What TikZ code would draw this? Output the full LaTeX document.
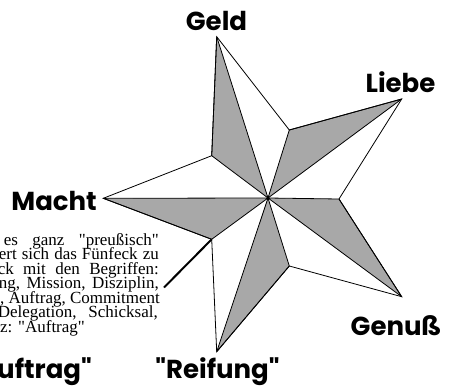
\documentclass[tikz,border=0pt]{standalone}
\usepackage{fontspec}
\setmainfont{Liberation Serif}[Ligatures=TeXOff]
\newfontfamily\labelfont{Poppins}[Ligatures=TeXOff]
\begin{document}
\begin{tikzpicture}[x=1pt,y=-1pt,
  lbl/.style={font=\labelfont\bfseries\fontsize{26}{26}\selectfont, inner sep=0pt},
  txt/.style={font=\fontsize{17}{17}\selectfont, inner sep=0pt, anchor=base east,
    text height=9pt, text depth=3pt},
  armfill/.style={fill=black!34, draw=black, line width=0.8pt, line join=round},
  outline/.style={draw=black, line width=0.8pt, line join=miter},
  callout/.style={draw=black, line width=2pt}]
\useasboundingbox (0,0) rectangle (449,388);
\clip (0,0) rectangle (449,388);
% star geometry
\coordinate (C) at (268,198);
\coordinate (M) at (103.3,198.3);
\coordinate (G) at (216.7,36.7);
\coordinate (L) at (401.7,99);
\coordinate (N) at (401.7,296.7);
\coordinate (R) at (216.7,351.7);
\coordinate (I1) at (211.7,155.7);
\coordinate (I2) at (289.3,130);
\coordinate (I3) at (339,199);
\coordinate (I4) at (289.3,266);
\coordinate (I5) at (211.7,239.3);
% gray halves
\path[armfill] (M) -- (C) -- (I5) -- cycle;
\path[armfill] (G) -- (C) -- (I1) -- cycle;
\path[armfill] (L) -- (C) -- (I2) -- cycle;
\path[armfill] (N) -- (C) -- (I3) -- cycle;
\path[armfill] (R) -- (C) -- (I4) -- cycle;
% outline
\path[outline] (M) -- (I1) -- (G) -- (I2) -- (L) -- (I3) -- (N) -- (I4) -- (R) -- (I5) -- cycle;
\fill[black] (C) circle (1.6);
% labels
\node[lbl, anchor=base] (geld) at (216.5,30) {Geld};
\node[lbl, anchor=base] (liebe) at (400.5,92) {Liebe};
\node[lbl, anchor=base east] (macht) at (97,210) {Macht};
\node[lbl, anchor=base] (genuss) at (396,335) {Genuß};
\node[lbl, anchor=base] (reifung) at (217.5,378) {"Reifung"};
\node[lbl, anchor=base east] (auftrag) at (92,378) {"Auftrag"};
% text block
\node[txt] (t1) at (159,245) {\makebox[155pt][s]{es ganz "preußisch"}};
\node[txt] (t2) at (159,259.5) {\makebox[160pt][s]{ert sich das Fünfeck zu}};
\node[txt] (t3) at (159,274) {\makebox[161pt][s]{ck mit den Begriffen:}};
\node[txt] (t4) at (159,288.5) {\makebox[160pt][s]{ng, Mission, Disziplin,}};
\node[txt] (t5) at (160,303) {g, Auftrag, Commitment};
\node[txt] (t6) at (158,317.5) {\makebox[160pt][s]{Delegation, Schicksal,}};
\node[txt, anchor=base west] (t7) at (0,332) {z: "Auftrag"};
\coordinate (tx) at (164,287.5);
\draw[callout] (tx) -- (I5);
\end{tikzpicture}
\end{document}
